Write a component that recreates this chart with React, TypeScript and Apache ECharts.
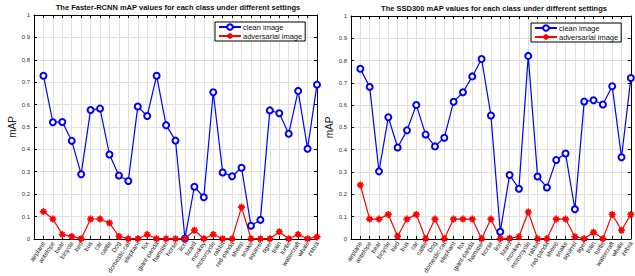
import React, { useEffect, useRef } from 'react';
import * as echarts from 'echarts';

const categories = [
  'airplane', 'antelope', 'bear', 'bicycle', 'bird', 'bus', 'car', 'cattle', 'Dog', 'domestic-cat',
  'elephant', 'fox', 'giant-panda', 'hamster', 'horse', 'lion', 'lizard', 'monkey', 'motorcycle', 'rabbit',
  'red-panda', 'sheep', 'snake', 'squirrel', 'tiger', 'train', 'turtle', 'watercraft', 'whale', 'zebra',
];

const frcnnClean = [
  0.729, 0.521, 0.522, 0.438, 0.289, 0.576, 0.582, 0.377, 0.283, 0.259,
  0.591, 0.549, 0.729, 0.508, 0.439, 0.002, 0.233, 0.186, 0.655, 0.297,
  0.280, 0.318, 0.059, 0.085, 0.574, 0.561, 0.470, 0.661, 0.403, 0.689,
];
const frcnnAdv = [
  0.122, 0.089, 0.020, 0.011, 0.001, 0.089, 0.089, 0.071, 0.011, 0.001,
  0.001, 0.020, 0.001, 0.001, 0.001, 0.001, 0.039, 0.001, 0.020, 0.001,
  0.001, 0.142, 0.001, 0.001, 0.001, 0.032, 0.001, 0.020, 0.001, 0.009,
];
const ssdClean = [
  0.763, 0.682, 0.303, 0.546, 0.410, 0.487, 0.601, 0.468, 0.415, 0.454,
  0.615, 0.658, 0.729, 0.807, 0.554, 0.032, 0.287, 0.225, 0.821, 0.280,
  0.231, 0.354, 0.383, 0.133, 0.616, 0.622, 0.603, 0.685, 0.366, 0.722,
];
const ssdAdv = [
  0.242, 0.089, 0.089, 0.110, 0.012, 0.089, 0.110, 0.001, 0.089, 0.001,
  0.089, 0.089, 0.089, 0.001, 0.089, 0.002, 0.003, 0.010, 0.121, 0.001,
  0.001, 0.089, 0.089, 0.010, 0.001, 0.030, 0.001, 0.110, 0.039, 0.110,
];

const titles = [
  'The Faster-RCNN mAP values for each class under different settings',
  'The SSD300 mAP values for each class under different settings',
];
const seriesNames = ['clean image', 'adversarial image'];

const FONT = '"Liberation Sans", Arial, Helvetica, sans-serif';
const BLUE = '#0000ff';
const RED = '#ff0000';
const STAR = 'path://M5,0L5,10M0,5L10,5M1.6,1.6L8.4,8.4M1.6,8.4L8.4,1.6';

const toPoints = (vals: number[]) => vals.map((v, i) => [i + 1, v]);

function xAxes(gridIndex: number) {
  return [
    {
      type: 'value',
      gridIndex,
      min: 0,
      max: categories.length,
      interval: 1,
      position: 'bottom',
      axisLine: { show: true, onZero: false, lineStyle: { color: '#000', width: 1 } },
      axisTick: { show: true, inside: true, length: 3, lineStyle: { color: '#000' } },
      axisLabel: {
        rotate: 57,
        fontSize: 6.3,
        fontFamily: FONT,
        color: '#111',
        margin: 3,
        formatter: (v: number) => categories[Math.round(v) - 1] ?? '',
      },
      splitLine: { show: true, lineStyle: { color: '#e0e0e0', width: 1 } },
    },
    {
      type: 'value',
      gridIndex,
      min: 0,
      max: categories.length,
      interval: 1,
      position: 'top',
      axisLine: { show: true, onZero: false, lineStyle: { color: '#000', width: 1 } },
      axisTick: { show: true, inside: true, length: 3, lineStyle: { color: '#000' } },
      axisLabel: { show: false },
      splitLine: { show: false },
    },
  ];
}

function yAxes(gridIndex: number) {
  return [
    {
      type: 'value',
      gridIndex,
      min: 0,
      max: 1,
      interval: 0.1,
      position: 'left',
      name: 'mAP',
      nameLocation: 'middle',
      nameGap: 15,
      nameTextStyle: { fontSize: 10, fontFamily: FONT, color: '#222' },
      axisLine: { show: true, onZero: false, lineStyle: { color: '#000', width: 1 } },
      axisTick: { show: true, inside: true, length: 3, lineStyle: { color: '#000' } },
      axisLabel: { fontSize: 6, fontFamily: FONT, color: '#333', margin: 4 },
      splitLine: { show: true, lineStyle: { color: '#e0e0e0', width: 1 } },
    },
    {
      type: 'value',
      gridIndex,
      min: 0,
      max: 1,
      interval: 0.1,
      position: 'right',
      axisLine: { show: true, onZero: false, lineStyle: { color: '#000', width: 1 } },
      axisTick: { show: true, inside: true, length: 3, lineStyle: { color: '#000' } },
      axisLabel: { show: false },
      splitLine: { show: false },
    },
  ];
}

function lineSeries(name: string, vals: number[], axisIdx: number, clean: boolean) {
  return {
    type: 'line',
    name,
    xAxisIndex: axisIdx,
    yAxisIndex: axisIdx,
    data: toPoints(vals),
    symbol: clean ? 'emptyCircle' : STAR,
    symbolSize: clean ? 6 : 7,
    showAllSymbol: true,
    clip: false,
    lineStyle: { color: clean ? BLUE : RED, width: 1.2 },
    itemStyle: clean
      ? { color: BLUE, borderColor: BLUE, borderWidth: 1.3 }
      : { color: RED, borderColor: RED, borderWidth: 1.6 },
    emphasis: { disabled: true },
  };
}

export default function App() {
  const ref = useRef<HTMLDivElement>(null);

  useEffect(() => {
    if (!ref.current) return;
    const chart = echarts.init(ref.current, undefined, { renderer: 'svg' });
    const titleStyle = { fontSize: 7.5, fontWeight: 'bold', fontFamily: FONT, color: '#111' };
    const legendBase = {
      data: seriesNames,
      orient: 'vertical',
      padding: [1, 3, 1, 3],
      itemGap: 1,
      itemWidth: 22,
      itemHeight: 7,
      borderColor: '#000',
      borderWidth: 1,
      backgroundColor: '#fff',
      textStyle: { fontSize: 7.5, fontFamily: FONT, color: '#111', padding: [0, 0, 0, -3] },
    };
    const option: any = {
      animation: false,
      backgroundColor: '#fff',
      textStyle: { fontFamily: FONT },
      title: [
        { text: titles[0], left: 176, top: 1, textAlign: 'center', padding: 2, textStyle: titleStyle },
        { text: titles[1], left: 492, top: 2, textAlign: 'center', padding: 2, textStyle: titleStyle },
      ],
      legend: [
        { ...legendBase, left: 215, top: 22 },
        { ...legendBase, left: 531, top: 23 },
      ],
      grid: [
        { left: 34, right: 318, top: 15, bottom: 37 },
        { left: 351, right: 3, top: 16, bottom: 37 },
      ],
      xAxis: [...xAxes(0), ...xAxes(1)],
      yAxis: [...yAxes(0), ...yAxes(1)],
      series: [
        lineSeries(seriesNames[0], frcnnClean, 0, true),
        lineSeries(seriesNames[1], frcnnAdv, 0, false),
        lineSeries(seriesNames[0], ssdClean, 2, true),
        lineSeries(seriesNames[1], ssdAdv, 2, false),
      ],
    };
    chart.setOption(option);
    return () => chart.dispose();
  }, []);

  return (
    <div
      ref={ref}
      style={{ position: 'absolute', left: 0, top: 0, width: 635, height: 276 }}
    />
  );
}
